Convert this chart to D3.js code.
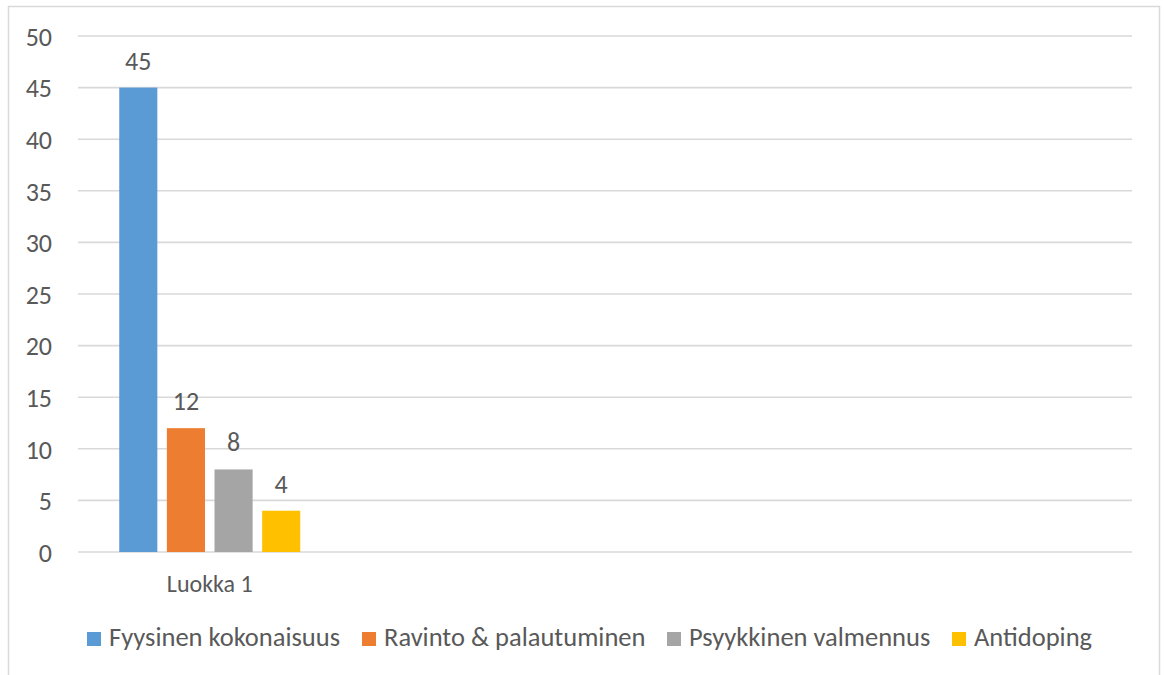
<!DOCTYPE html>
<html>
  <head>
    <title></title>
    <style type="text/css">
        html, body{
            padding: 0px;
            margin: 0px;
            background: #ffffff;
        }
        svg text{
            font-family: "Carlito", "Lato", sans-serif;
            fill: #595959;
        }
    </style>
  </head>
  <body>
    <div id="vis"></div>
    <script src="https://cdnjs.cloudflare.com/ajax/libs/d3/7.8.5/d3.min.js"></script>
    <script type="text/javascript">

        // data
        var categories = ["Luokka 1", "Luokka 2", "Luokka 3", "Luokka 4"]
        var categoryLabels = ["Luokka 1", "", "", ""]
        var seriesNames = ["Fyysinen kokonaisuus", "Ravinto & palautuminen", "Psyykkinen valmennus", "Antidoping"]
        var seriesValues = [
            [45, null, null, null],
            [12, null, null, null],
            [8, null, null, null],
            [4, null, null, null]
        ]
        var seriesColors = ["#5b9bd5", "#ed7d31", "#a5a5a5", "#ffc000"]
        var yTicks = [0, 5, 10, 15, 20, 25, 30, 35, 40, 45, 50]

        var width = 1164, height = 675
        var plot = {left: 78, right: 1132, top: 36, bottom: 552}

        var svg = d3.select("#vis").append("svg")
            .attr("width", width)
            .attr("height", height)

        // chart frame
        svg.append("rect")
            .attr("x", 8.5)
            .attr("y", 6.5)
            .attr("width", 1151)
            .attr("height", 700)
            .attr("fill", "#ffffff")
            .attr("stroke", "#d9d9d9")
            .attr("stroke-width", 1.5)

        var y = d3.scaleLinear()
            .domain([0, 50])
            .range([plot.bottom, plot.top])

        var x0 = d3.scaleBand()
            .domain(categories)
            .range([plot.left, plot.right])
            .paddingInner(0.313)
            .paddingOuter(0.1565)

        var x1 = d3.scaleBand()
            .domain(seriesNames)
            .range([0, x0.bandwidth()])
            .paddingInner(0.2)

        // gridlines
        svg.append("g")
            .selectAll("line")
            .data(yTicks)
            .join("line")
            .attr("x1", plot.left)
            .attr("x2", plot.right)
            .attr("y1", function(d){ return y(d) })
            .attr("y2", function(d){ return y(d) })
            .attr("stroke", "#d9d9d9")
            .attr("stroke-width", 1.6)

        // y axis labels
        var yAxis = d3.axisLeft(y)
            .tickValues(yTicks)
            .tickSize(0)
            .tickPadding(0)
        var gy = svg.append("g")
            .attr("transform", "translate(52,0)")
            .call(yAxis)
        gy.select(".domain").remove()
        gy.selectAll("text")
            .attr("font-size", "26px")
            .attr("dy", "0.36em")
            .attr("fill", "#595959")

        // category labels
        var xAxis = d3.axisBottom(x0)
            .tickSize(0)
            .tickPadding(0)
            .tickFormat(function(d, i){ return categoryLabels[i] })
        var gx = svg.append("g")
            .attr("transform", "translate(0,592)")
            .call(xAxis)
        gx.select(".domain").remove()
        gx.selectAll("text")
            .attr("dy", 0)
            .attr("font-size", "24px")
            .attr("fill", "#595959")

        var cells = []
        seriesNames.forEach(function(s, si){
            categories.forEach(function(c, ci){
                var v = seriesValues[si][ci]
                if (v !== null) cells.push({series: s, si: si, category: c, value: v})
            })
        })

        // bars
        svg.append("g")
            .selectAll("rect")
            .data(cells)
            .join("rect")
            .attr("x", function(d){ return x0(d.category) + x1(d.series) })
            .attr("y", function(d){ return y(d.value) })
            .attr("width", x1.bandwidth())
            .attr("height", function(d){ return y(0) - y(d.value) })
            .attr("fill", function(d){ return seriesColors[d.si] })

        // data labels
        svg.append("g")
            .selectAll("text")
            .data(cells)
            .join("text")
            .attr("x", function(d){ return x0(d.category) + x1(d.series) + x1.bandwidth() / 2 })
            .attr("y", function(d){ return y(d.value) - 18 })
            .attr("text-anchor", "middle")
            .attr("font-size", "26px")
            .text(function(d){ return d.value })

        // legend
        var legendX = [87, 362, 667, 952]
        var legend = svg.append("g")
            .selectAll("g")
            .data(seriesNames)
            .join("g")
            .attr("transform", function(d, i){ return "translate(" + legendX[i] + ",632)" })
        legend.append("rect")
            .attr("width", 14)
            .attr("height", 14)
            .attr("fill", function(d, i){ return seriesColors[i] })
        legend.append("text")
            .attr("x", 22)
            .attr("y", 14)
            .attr("font-size", "26.5px")
            .text(function(d){ return d })

    </script>
  </body>
</html>
